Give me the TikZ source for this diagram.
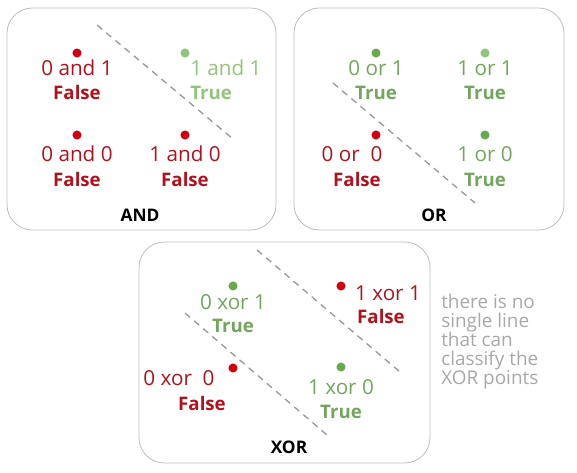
\documentclass[tikz,border=0pt]{standalone}
\usepackage{fontspec}
\setmainfont{Open Sans}
\definecolor{fred}{HTML}{B3121C}
\definecolor{dred}{HTML}{D00010}
\definecolor{tgreen}{HTML}{72A65E}
\definecolor{dgreen}{HTML}{6AA84F}
\definecolor{lgreen}{HTML}{93C47D}
\definecolor{boxgray}{HTML}{BDBDBD}
\definecolor{dashgray}{HTML}{9A9A9A}
\definecolor{notegray}{HTML}{A8A8A8}
\tikzset{
  panel/.style={draw=boxgray, line width=0.6pt, rounded corners=19pt},
  dot/.style={circle, fill=#1, inner sep=0pt, minimum size=6.8pt},
  expr/.style={text=#1, font=\fontsize{15.5}{17}\selectfont, inner sep=0pt, anchor=center},
  verdict/.style={text=#1, font=\fontsize{14}{16}\selectfont\bfseries, inner sep=0pt, anchor=center},
  title/.style={font=\fontsize{13}{15}\selectfont\bfseries, inner sep=0pt},
  sep/.style={draw=dashgray, line width=1pt, dash pattern=on 5pt off 4pt},
  note/.style={text=notegray, font=\fontsize{14.2}{14.2}\selectfont, align=left, anchor=north west, inner sep=0pt},
}
\begin{document}
\begin{tikzpicture}[x=0.75pt, y=-0.75pt]
\useasboundingbox (0,0) rectangle (577,473);
% panels
\draw[panel] (7,8) rectangle (276,230);
\draw[panel] (294,8) rectangle (564,230);
\draw[panel] (139,242) rectangle (430,463);

% AND
\node[dot=dred] (a01) at (77,53) {};
\node[expr=fred] (a01e) at (77,68) {0 and 1};
\node[verdict=fred] (a01v) at (77,93) {False};
\node[dot=lgreen] (a11) at (185,53) {};
\node[expr=lgreen, anchor=west] (a11e) at (190,68) {1 and 1};
\node[verdict=lgreen, anchor=west] (a11v) at (190,93) {True};
\node[dot=dred] (a00) at (77,135) {};
\node[expr=fred] (a00e) at (77,154) {0 and 0};
\node[verdict=fred] (a00v) at (77,180) {False};
\node[dot=dred] (a10) at (185,135) {};
\node[expr=fred] (a10e) at (185,154) {1 and 0};
\node[verdict=fred] (a10v) at (185,180) {False};
\node[title] (andt) at (140,215) {AND};
\coordinate (al1) at (97,25);
\coordinate (al2) at (233,139);
\draw[sep] (al1) -- (al2);

% OR
\node[dot=dgreen] (o01) at (376,53) {};
\node[expr=tgreen] (o01e) at (376,68) {0 or 1};
\node[verdict=tgreen] (o01v) at (376,93) {True};
\node[dot=lgreen] (o11) at (485,53) {};
\node[expr=tgreen] (o11e) at (485,68) {1 or 1};
\node[verdict=tgreen] (o11v) at (485,93) {True};
\node[dot=dred] (o00) at (376,135) {};
\node[expr=fred] (o00e) at (352,154) {0 or\ \ 0};
\node[verdict=fred] (o00v) at (357,180) {False};
\node[dot=dgreen] (o10) at (485,135) {};
\node[expr=tgreen] (o10e) at (485,154) {1 or 0};
\node[verdict=tgreen] (o10v) at (485,180) {True};
\node[title] (ort) at (434,215) {OR};
\coordinate (ol1) at (333,83);
\coordinate (ol2) at (475,203);
\draw[sep] (ol1) -- (ol2);

% XOR
\node[dot=dgreen] (x01) at (233,286) {};
\node[expr=tgreen] (x01e) at (233,302) {0 xor 1};
\node[verdict=tgreen] (x01v) at (233,326) {True};
\node[dot=dred] (x11) at (341,286) {};
\node[expr=fred] (x11e) at (388,293) {1 xor 1};
\node[verdict=fred] (x11v) at (381,317) {False};
\node[dot=dred] (x00) at (233,368) {};
\node[expr=fred] (x00e) at (179,378) {0 xor\ \ 0};
\node[verdict=fred] (x00v) at (202,403) {False};
\node[dot=dgreen] (x10) at (341,367) {};
\node[expr=tgreen] (x10e) at (341,387) {1 xor 0};
\node[verdict=tgreen] (x10v) at (341,412) {True};
\node[title] (xort) at (289,447) {XOR};
\coordinate (xl1) at (185,313);
\coordinate (xl2) at (327,435);
\draw[sep] (xl1) -- (xl2);
\coordinate (xm1) at (257,250);
\coordinate (xm2) at (400,372);
\draw[sep] (xm1) -- (xm2);

% note
\node[note] (nt) at (441,294) {there is no\\single line\\that can\\classify the\\XOR points};
\end{tikzpicture}
\end{document}
